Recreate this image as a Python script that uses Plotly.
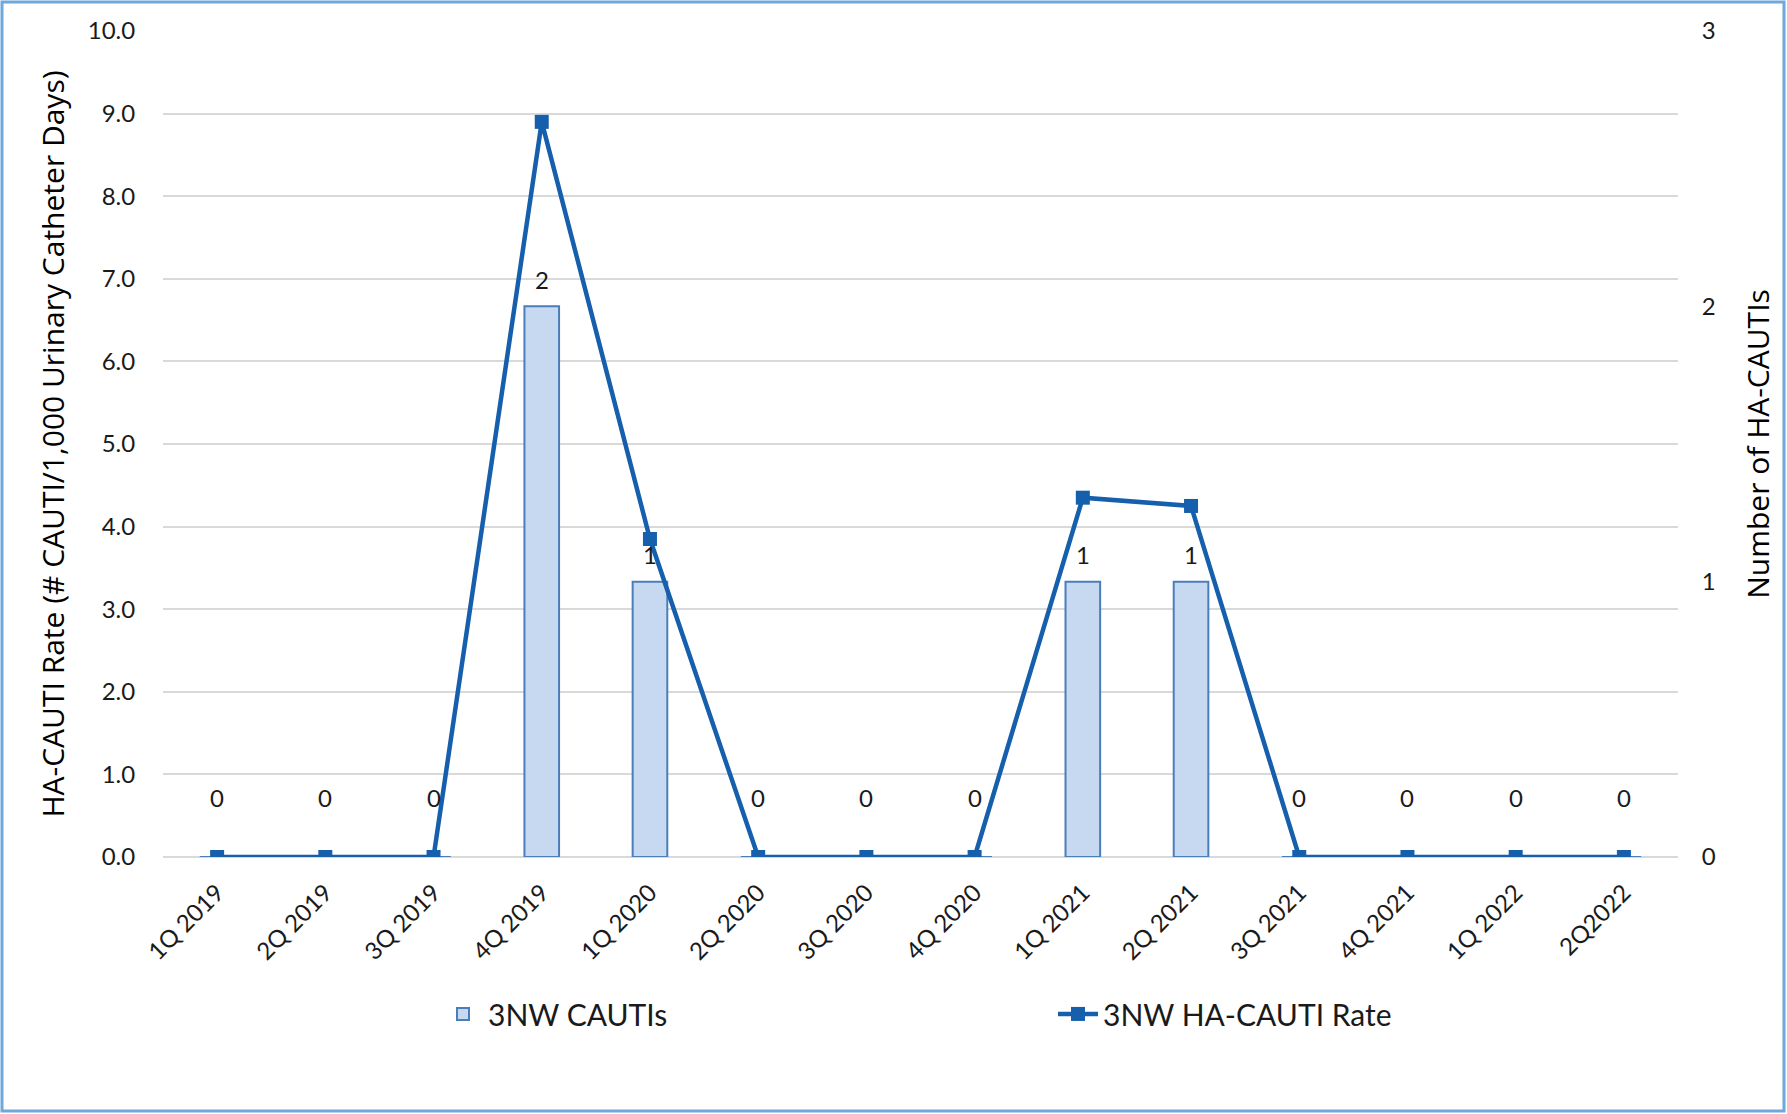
import plotly.graph_objects as go

quarters = ["1Q 2019", "2Q 2019", "3Q 2019", "4Q 2019", "1Q 2020", "2Q 2020", "3Q 2020",
            "4Q 2020", "1Q 2021", "2Q 2021", "3Q 2021", "4Q 2021", "1Q 2022", "2Q2022"]
cauti_counts = [0, 0, 0, 2, 1, 0, 0, 0, 1, 1, 0, 0, 0, 0]
cauti_rate = [0, 0, 0, 8.9, 3.85, 0, 0, 0, 4.35, 4.25, 0, 0, 0, 0]
rate_ticks = [0, 1, 2, 3, 4, 5, 6, 7, 8, 9, 10]
count_ticks = [0, 1, 2, 3]

W, H = 1787, 1114
ml, mr, mt, mb = 163, 109, 31, 257
pw, ph = W - ml - mr, H - mt - mb

line_col = "#155FAC"
bar_fill = "#C6D9F0"
bar_line = "#4A7EBB"
txt = "#1A1A1A"
tick_font = "Lato, Liberation Sans, sans-serif"
title_font = "Open Sans, DejaVu Sans, sans-serif"

fig = go.Figure()
fig.add_trace(go.Bar(
    x=quarters, y=cauti_counts, name="3NW CAUTIs", yaxis="y",
    width=0.32, marker=dict(color=bar_fill, line=dict(color=bar_line, width=2)),
))
fig.add_trace(go.Scatter(
    x=quarters, y=cauti_rate, name="3NW HA-CAUTI Rate", yaxis="y2",
    mode="lines+markers", line=dict(color=line_col, width=4.5),
    marker=dict(symbol="square", size=14, color=line_col),
))

annotations = []
for q, c in zip(quarters, cauti_counts):
    annotations.append(dict(
        x=q, y=c, xref="x", yref="y", text=str(c), showarrow=False,
        yshift=27 if c > 0 else 60, yanchor="middle",
        font=dict(family=tick_font, size=24, color=txt),
    ))

fig.update_layout(
    width=W, height=H,
    margin=dict(l=ml, r=mr, t=mt, b=mb),
    paper_bgcolor="white", plot_bgcolor="white",
    showlegend=True,
    legend=dict(orientation="h", x=(438 - ml) / pw, xanchor="left", y=-0.19, yanchor="middle",
                font=dict(family=tick_font, size=30, color=txt),
                entrywidth=560, itemwidth=40),
    xaxis=dict(type="category", tickangle=-45, showgrid=False, showline=False,
               ticks="outside", ticklen=11, tickcolor="rgba(0,0,0,0)",
               tickfont=dict(family=tick_font, size=24, color=txt),
               range=[-0.5, 13.5]),
    yaxis=dict(side="right", range=[0, 3], tickvals=count_ticks, showgrid=False,
               zeroline=False, showline=False,
               ticks="outside", ticklen=18, tickcolor="rgba(0,0,0,0)",
               tickfont=dict(family=tick_font, size=24, color=txt),
               title=dict(text="Number of HA-CAUTIs", standoff=33,
                          font=dict(family=title_font, size=30, color="#000000"))),
    yaxis2=dict(side="left", overlaying="y", range=[0, 10], tickvals=rate_ticks,
                tickformat=".1f", showgrid=True, gridcolor="#D9D9D9", gridwidth=2,
                zeroline=True, zerolinecolor="#D9D9D9", zerolinewidth=2,
                showline=False,
                ticks="outside", ticklen=22, tickcolor="rgba(0,0,0,0)",
                tickfont=dict(family=tick_font, size=24, color=txt),
                title=dict(text="HA-CAUTI Rate (# CAUTI/1,000 Urinary Catheter Days)",
                           standoff=14,
                           font=dict(family=title_font, size=30, color="#000000"))),
    annotations=annotations,
    shapes=[dict(type="rect", xref="paper", yref="paper",
                 x0=(2 - ml) / pw, x1=(W - 3 - ml) / pw,
                 y0=(ph + mt - (H - 3)) / ph, y1=(ph + mt - 2) / ph,
                 line=dict(color="#6FA8DC", width=3), layer="above")],
)

fig.write_html("out.html",
               config={"displayModeBar": False},
               post_script="document.body.style.margin='0px';document.body.style.overflow='hidden';")
